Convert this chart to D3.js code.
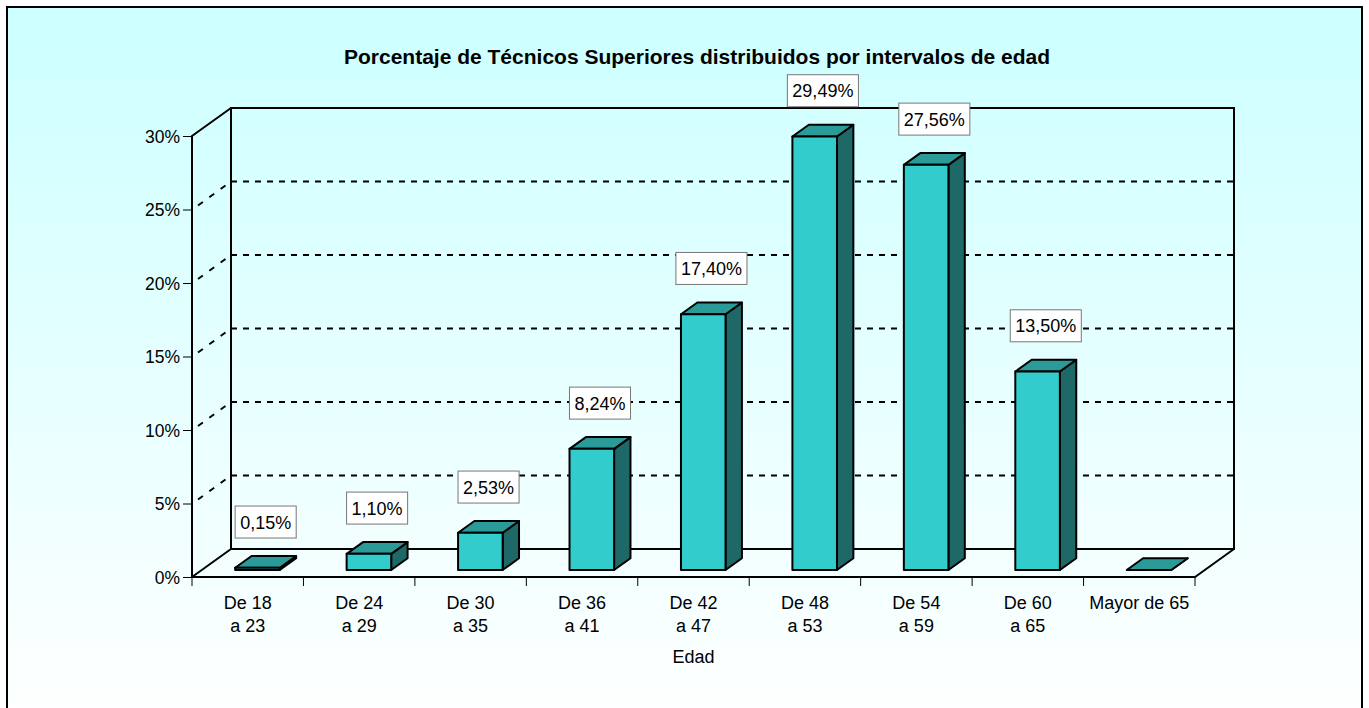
<!DOCTYPE html>
<html>
<head>
<meta charset="utf-8">
<script src="https://cdn.jsdelivr.net/npm/d3@7"></script>
<style>
  body { margin: 0; background: #fff; }
  svg { display: block; font-family: Arial, "Liberation Sans", sans-serif; }
</style>
</head>
<body>
<div id="chart"></div>
<script>
// chart data
const categories = ["De 18 a 23", "De 24 a 29", "De 30 a 35", "De 36 a 41", "De 42 a 47", "De 48 a 53", "De 54 a 59", "De 60 a 65", "Mayor de 65"];
const catLines = [["De 18", "a 23"], ["De 24", "a 29"], ["De 30", "a 35"], ["De 36", "a 41"], ["De 42", "a 47"], ["De 48", "a 53"], ["De 54", "a 59"], ["De 60", "a 65"], ["Mayor de 65"]];
const values = [0.15, 1.10, 2.53, 8.24, 17.40, 29.49, 27.56, 13.50, 0];
const yTicks = [0, 5, 10, 15, 20, 25, 30];
const title = "Porcentaje de Técnicos Superiores distribuidos por intervalos de edad";
const xTitle = "Edad";

const W = 1369, H = 708;
const left = 192, right = 1195, floorY = 577, topY = 136;
const depth = { dx: 39, dy: -28 }; // full floor depth (3D offset)
const barFront = 0.25, barBack = 0.67; // bar position inside the depth

const svg = d3.select("#chart").append("svg")
    .attr("width", W)
    .attr("height", H);

const grad = svg.append("defs").append("linearGradient")
    .attr("id", "bg")
    .attr("x1", 0).attr("y1", 0).attr("x2", 0).attr("y2", 1);
grad.append("stop").attr("offset", "0%").attr("stop-color", "#ccffff");
grad.append("stop").attr("offset", "100%").attr("stop-color", "#ffffff");

// outer frame
svg.append("rect")
    .attr("x", 7).attr("y", 7)
    .attr("width", W - 14).attr("height", H + 10)
    .attr("fill", "url(#bg)")
    .attr("stroke", "#000")
    .attr("stroke-width", 2);

svg.append("text")
    .attr("x", 697).attr("y", 64)
    .attr("text-anchor", "middle")
    .style("font-size", "21px")
    .style("font-weight", "bold")
    .text(title);

const x = d3.scaleBand().domain(categories).range([left, right]);
const y = d3.scaleLinear().domain([0, 30]).range([floorY, topY]);

const bx = left + depth.dx, by = depth.dy; // back wall offsets

// back wall gridlines
svg.append("g").selectAll("line")
    .data(yTicks.filter(d => d > 0))
    .enter().append("line")
    .attr("x1", bx).attr("x2", right + depth.dx)
    .attr("y1", d => y(d) + by).attr("y2", d => y(d) + by)
    .attr("stroke", "#000")
    .attr("stroke-width", 2)
    .attr("stroke-dasharray", "6,6");

// side wall gridlines
svg.append("g").selectAll("line")
    .data(yTicks.filter(d => d > 0 && d < 30))
    .enter().append("line")
    .attr("x1", left + 6).attr("x2", bx)
    .attr("y1", d => y(d) - 4).attr("y2", d => y(d) + by)
    .attr("stroke", "#000")
    .attr("stroke-width", 2)
    .attr("stroke-dasharray", "6,8");

// walls and floor outline
const frame = svg.append("g")
    .attr("fill", "none")
    .attr("stroke", "#000")
    .attr("stroke-width", 2);
frame.append("path") // back wall
    .attr("d", `M${bx},${y(0) + by}V${y(30) + by}H${right + depth.dx}V${y(0) + by}Z`);
frame.append("path") // side wall top edge + front axis
    .attr("d", `M${bx},${y(30) + by}L${left},${y(30)}V${y(0)}`);
frame.append("path") // floor
    .attr("d", `M${left},${y(0)}L${bx},${y(0) + by}M${left},${y(0)}H${right}L${right + depth.dx},${y(0) + by}`);

// bars
const bw = x.bandwidth() * 0.4;
const fdx = depth.dx * barFront, fdy = depth.dy * barFront;
const ddx = depth.dx * (barBack - barFront), ddy = depth.dy * (barBack - barFront);

const bars = svg.append("g").selectAll("g")
    .data(values)
    .enter().append("g")
    .attr("stroke", "#000")
    .attr("stroke-width", 2)
    .attr("stroke-linejoin", "round");

function bx0(i) { return x(categories[i]) + (x.bandwidth() - bw) / 2 + fdx; }

bars.append("path") // side face
    .attr("fill", "#1e6968")
    .attr("d", (d, i) => {
        const x1 = bx0(i) + bw, yt = y(d) + fdy, yb = y(0) + fdy;
        return `M${x1},${yt}L${x1 + ddx},${yt + ddy}V${yb + ddy}L${x1},${yb}Z`;
    });
bars.append("path") // top face
    .attr("fill", "#2a9b99")
    .attr("d", (d, i) => {
        const x0 = bx0(i), yt = y(d) + fdy;
        return `M${x0},${yt}L${x0 + ddx},${yt + ddy}H${x0 + bw + ddx}L${x0 + bw},${yt}Z`;
    });
bars.append("rect") // front face
    .attr("fill", "#33cccc")
    .attr("x", (d, i) => bx0(i))
    .attr("y", d => y(d) + fdy)
    .attr("width", bw)
    .attr("height", d => y(0) - y(d));

// value labels
const fmt = d => d3.format(".2f")(d).replace(".", ",") + "%";
const labels = svg.append("g").selectAll("g")
    .data(values.map((v, i) => ({ v, i })).filter(d => d.v > 0))
    .enter().append("g")
    .attr("transform", d => {
        const cx = bx0(d.i) + bw / 2 + ddx / 2;
        const cy = y(d.v) + fdy + ddy - 16 - 18;
        return `translate(${cx},${cy})`;
    });
labels.append("rect")
    .attr("fill", "#fff")
    .attr("stroke", "#777")
    .attr("stroke-width", 1);
labels.append("text")
    .attr("text-anchor", "middle")
    .attr("dy", "0.36em")
    .style("font-size", "18px")
    .text(d => fmt(d.v));
labels.each(function() {
    const t = d3.select(this).select("text").node().getBBox();
    d3.select(this).select("rect")
        .attr("x", t.x - 5).attr("y", -16)
        .attr("width", t.width + 10).attr("height", 32);
});

// y axis
const yAxis = svg.append("g")
    .attr("transform", `translate(${left},0)`)
    .call(d3.axisLeft(y).tickValues(yTicks).tickFormat(d => d + "%").tickSize(9).tickSizeOuter(0));
yAxis.select(".domain").remove();
yAxis.selectAll(".tick line").attr("stroke", "#000");
yAxis.selectAll(".tick text")
    .attr("x", -12)
    .attr("dy", "0.36em")
    .style("font-size", "17.5px")
    .style("font-family", "Arial, 'Liberation Sans', sans-serif")
    .attr("fill", "#000");

// x axis: ticks at category boundaries, labels centred
svg.append("g").selectAll("line")
    .data(categories.map(c => x(c)).concat([right]))
    .enter().append("line")
    .attr("x1", d => d).attr("x2", d => d)
    .attr("y1", floorY).attr("y2", floorY + 9)
    .attr("stroke", "#000")
    .attr("stroke-width", 1);

const xl = svg.append("g").selectAll("text")
    .data(categories)
    .enter().append("text")
    .attr("x", d => x(d) + x.bandwidth() / 2)
    .attr("y", 609)
    .attr("text-anchor", "middle")
    .style("font-size", "18px");
xl.selectAll("tspan")
    .data((d, i) => catLines[i])
    .enter().append("tspan")
    .attr("x", function() { return d3.select(this.parentNode).attr("x"); })
    .attr("dy", (d, j) => j ? 23 : 0)
    .text(d => d);

svg.append("text")
    .attr("x", (left + right) / 2)
    .attr("y", 663)
    .attr("text-anchor", "middle")
    .style("font-size", "18px")
    .text(xTitle);
</script>
</body>
</html>
